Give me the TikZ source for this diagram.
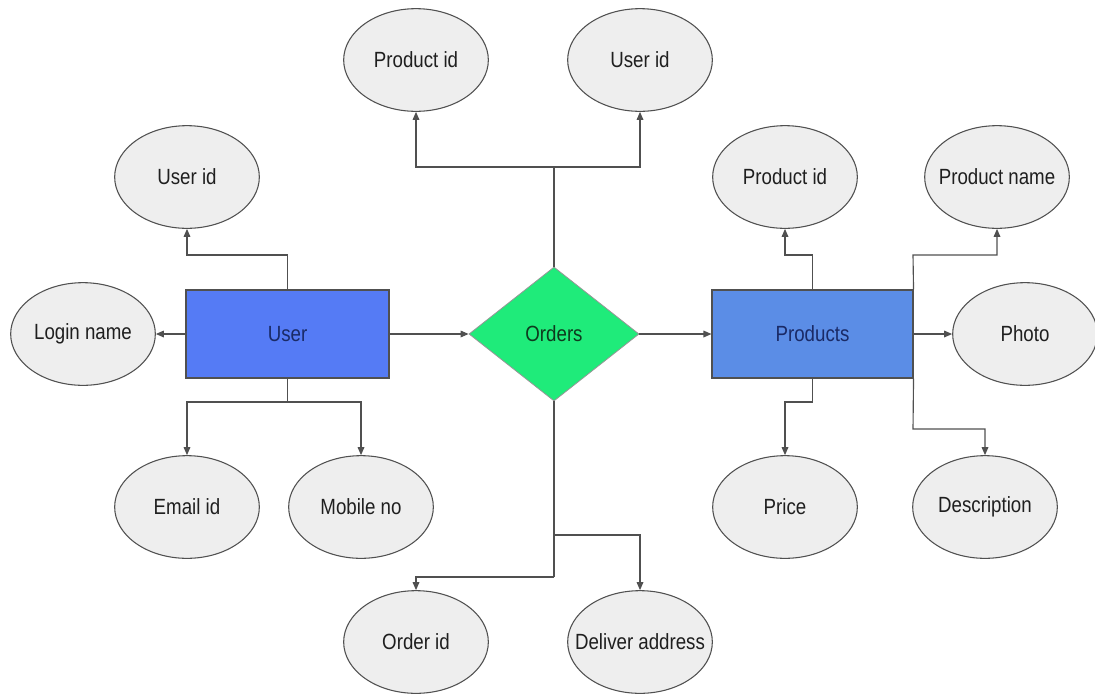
\documentclass[tikz,border=0pt]{standalone}
\usepackage{fontspec}
\setmainfont{Liberation Sans}[FakeStretch=0.85]
\usetikzlibrary{shapes.geometric,arrows.meta}
\definecolor{usercol}{HTML}{557BF5}
\definecolor{prodcol}{HTML}{5B8DE6}
\definecolor{ordcol}{HTML}{1FEB7A}
\definecolor{edgecol}{HTML}{505050}
\definecolor{ellfill}{HTML}{EEEEEE}
\definecolor{navy}{HTML}{1A2A66}
\definecolor{dgreen}{HTML}{0E3A1E}
\begin{document}
\begin{tikzpicture}[x=0.75pt,y=-0.75pt,
  lbl/.style={font=\fontsize{16.5}{19}\selectfont,text=black!88},
  attr/.style={ellipse,draw=edgecol,line width=0.8pt,fill=ellfill,
    minimum width=108.5pt,minimum height=77pt,inner sep=0pt,
    label={[lbl]center:#1}},
  ent/.style={rectangle,draw=edgecol,line width=0.8pt,
    minimum height=66pt,inner sep=0pt,font=\fontsize{16.5}{19}\selectfont,text=navy},
  rel/.style={diamond,draw=edgecol!60,line width=0.6pt,fill=ordcol,
    minimum width=127.5pt,minimum height=100.5pt,inner sep=0pt,
    font=\fontsize{16.5}{19}\selectfont,text=dgreen},
  conn/.style={draw=edgecol,line width=0.85pt,-{Triangle[length=6pt,width=5pt]}},
  plain/.style={draw=edgecol,line width=0.85pt}
]
\useasboundingbox (0,0) rectangle (1095,693);

% entities
\node[ent,fill=usercol,minimum width=152.25pt] (user) at (287.5,334) {User};
\node[ent,fill=prodcol,minimum width=150.75pt] (products) at (812.5,334) {Products};
\node[rel] (orders) at (554,334) {Orders};

% attributes
\node[attr=Product id] (pidT) at (416,60) {};
\node[attr=User id] (uidT) at (640,60) {};
\node[attr=User id] (uidL) at (187,177) {};
\node[attr=Product id] (pidR) at (785,177) {};
\node[attr=Product name] (pname) at (997,177) {};
\node[attr=Login name] (login) at (83,334) {};
\node[attr=Photo] (photo) at (1025,334) {};
\node[attr=Email id] (email) at (187,507) {};
\node[attr=Mobile no] (mobile) at (361,507) {};
\node[attr=Price] (price) at (785,507) {};
\node[attr=Description] (desc) at (985,507) {};
\node[attr=Order id] (orderid) at (416,642) {};
\node[attr=Deliver address] (deliver) at (640,642) {};

% branch points
\coordinate (ut) at (287.5,255);
\coordinate (ub) at (287.5,402);
\coordinate (ot) at (554,167);
\coordinate (ob1) at (554,535);
\coordinate (ob2) at (554,577);
\coordinate (pt1) at (812.5,255);
\coordinate (pt2) at (913,255);
\coordinate (pb1) at (812.5,402);
\coordinate (pb2) at (913,429);

% connectors
\draw[conn] (user.west) -- (login.east);
\draw[conn] (user.east) -- (orders.west);
\draw[conn] (orders.east) -- (products.west);
\draw[conn] (products.east) -- (photo.west);

\draw[conn] (user.north) -- (ut) -| (uidL.south);
\draw[plain] (user.south) -- (ub);
\draw[conn] (ub) -| (email.north);
\draw[conn] (ub) -| (mobile.north);

\draw[plain] (orders.north) -- (ot);
\draw[conn] (ot) -| (pidT.south);
\draw[conn] (ot) -| (uidT.south);
\draw[plain] (orders.south) -- (ob2);
\draw[conn] (ob1) -| (deliver.north);
\draw[conn] (ob2) -| (orderid.north);

\draw[conn] (products.north) -- (pt1) -| (pidR.south);
\draw[conn] (products.north east) -- (pt2) -| (pname.south);
\draw[conn] (products.south) -- (pb1) -| (price.north);
\draw[conn] (products.south east) -- (pb2) -| (desc.north);
\end{tikzpicture}
\end{document}
